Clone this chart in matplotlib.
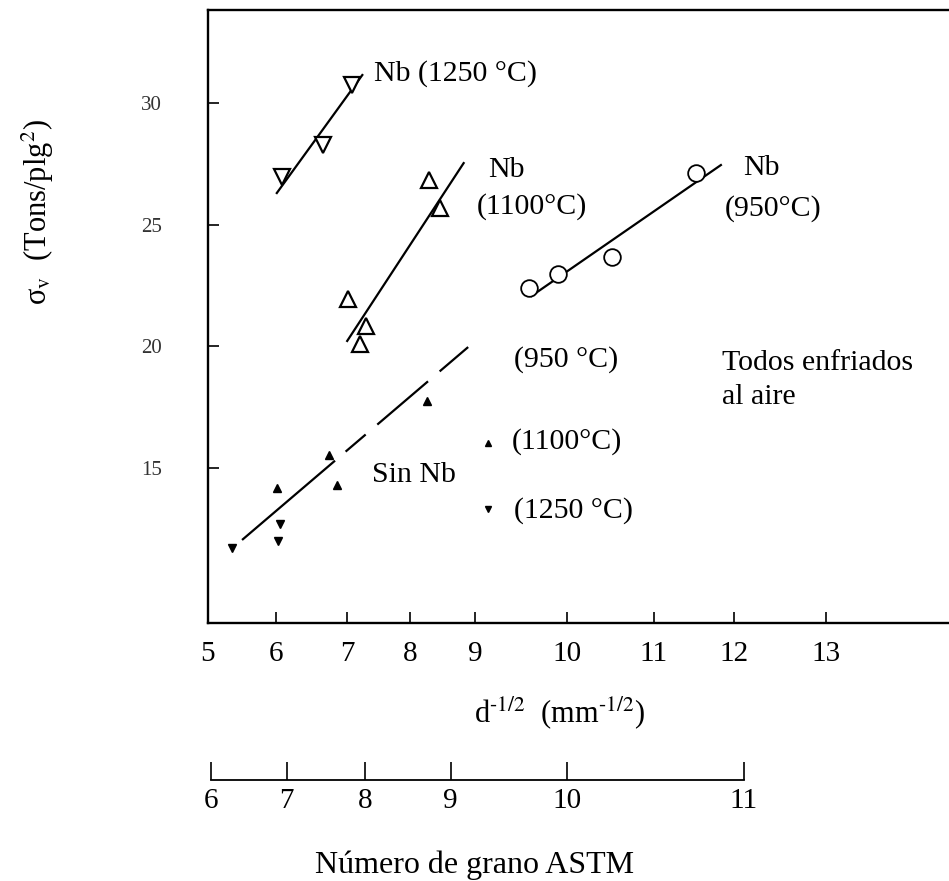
import numpy as np
import matplotlib
matplotlib.use('Agg')
import matplotlib.pyplot as plt

plt.rcParams['font.family'] = 'Liberation Serif'
plt.rcParams['mathtext.fontset'] = 'stix'
plt.rcParams['lines.scale_dashes'] = False

# printed d^-1/2 scale: tick values and their spacing along the axis (irregular)
scale_vals = np.array([5, 6, 7, 8, 9, 10, 11, 12, 13], float)
scale_pos = np.array([0, 68, 139, 202, 267, 359, 445, 525, 617], float)

# Nb steels, open markers
nb1250_x = [6.08, 6.66, 7.08]
nb1250_y = [26.96, 28.27, 30.74]
nb1250_fit_x = [6.01, 7.24]
nb1250_fit_y = [26.3, 31.15]

nb1100_x = [7.02, 7.30, 7.21, 8.29, 8.45]
nb1100_y = [21.94, 20.83, 20.09, 26.84, 25.68]
nb1100_fit_x = [7.0, 8.82]
nb1100_fit_y = [20.22, 27.53]

nb950_x = [9.58, 9.90, 10.52, 11.53]
nb950_y = [22.40, 22.97, 23.67, 27.12]
nb950_fit_x = [9.61, 11.84]
nb950_fit_y = [22.07, 27.45]

# steels without Nb, small filled markers
sin1100_x = [6.01, 6.86, 6.75, 8.25]
sin1100_y = [14.18, 14.30, 15.53, 17.75]
sin1250_x = [5.35, 6.06, 6.03]
sin1250_y = [11.71, 12.70, 12.00]
sin_fit_x = [5.5, 8.89]
sin_fit_y = [12.04, 19.97]

y_ticks = [15, 20, 25, 30]

# ASTM grain number against d^-1/2
astm_numbers = [6, 7, 8, 9, 10, 11]
astm_d = [5.04, 6.15, 7.29, 8.62, 10.0, 12.11]


def _piecewise(v, xs, ys):
    # linear interpolation, extrapolated with the end slopes
    v = np.asarray(v, float)
    out = np.interp(v, xs, ys)
    lo_slope = (ys[1] - ys[0]) / (xs[1] - xs[0])
    hi_slope = (ys[-1] - ys[-2]) / (xs[-1] - xs[-2])
    out = np.where(v < xs[0], ys[0] + (v - xs[0]) * lo_slope, out)
    out = np.where(v > xs[-1], ys[-1] + (v - xs[-1]) * hi_slope, out)
    return out


def fwd(v):
    return _piecewise(v, scale_vals, scale_pos)


def inv(p):
    return _piecewise(p, scale_pos, scale_vals)


def main():
    fig = plt.figure(figsize=(9.49, 8.81), dpi=100)
    ax = fig.add_axes([208 / 949, 1 - 623 / 881, 1 - 208 / 949, (623 - 10) / 881])
    ax.set_xscale('function', functions=(fwd, inv))
    xmax = 13 + (949 - 826) / 92
    ax.set_xlim(5, xmax)
    ax.set_ylim(30 - (623 - 103) / 24.33, 30 + (103 - 10) / 24.33)

    lw = 1.6
    ax.plot(nb1250_fit_x, nb1250_fit_y, color='black', lw=lw)
    ax.plot(nb1250_x, nb1250_y, 'v', ms=12, mfc='white', mec='black', mew=1.6)

    ax.plot(nb1100_fit_x, nb1100_fit_y, color='black', lw=lw)
    ax.plot(nb1100_x, nb1100_y, '^', ms=12, mfc='white', mec='black', mew=1.6)

    ax.plot(nb950_fit_x, nb950_fit_y, color='black', lw=lw)
    ax.plot(nb950_x, nb950_y, 'o', ms=12, mfc='white', mec='black', mew=1.3)

    ax.plot(sin_fit_x, sin_fit_y, color='black', lw=lw,
            linestyle=(0, (88, 10, 19, 11, 48, 11, 27, 10)))
    ax.plot(sin1100_x, sin1100_y, '^', ms=6, color='black')
    ax.plot(sin1250_x, sin1250_y, 'v', ms=6, color='black')

    fs = 21.5
    ax.text(7.43, 31.23, 'Nb (1250 °C)', fontsize=fs, va='center')
    ax.text(9.14, 27.25, 'Nb', fontsize=fs, va='center')
    ax.text(9.02, 25.73, '(1100°C)', fontsize=fs, va='center')
    ax.text(12.10, 27.33, 'Nb', fontsize=fs, va='center')
    ax.text(11.89, 25.68, '(950°C)', fontsize=fs, va='center')
    ax.text(7.40, 14.71, 'Sin Nb', fontsize=fs, va='center')

    ax.text(9.42, 19.44, '(950 °C)', fontsize=fs, va='center')
    ax.plot([9.14], [16.03], '^', ms=5, color='black')
    ax.text(9.40, 16.07, '(1100°C)', fontsize=fs, va='center')
    ax.plot([9.14], [13.31], 'v', ms=5, color='black')
    ax.text(9.42, 13.27, '(1250 °C)', fontsize=fs, va='center')
    ax.text(11.86, 19.31, 'Todos enfriados', fontsize=fs, va='center')
    ax.text(11.86, 17.92, 'al aire', fontsize=fs, va='center')

    ax.spines['right'].set_visible(False)
    for s in ('left', 'bottom', 'top'):
        ax.spines[s].set_linewidth(1.7)
    ax.set_xticks(scale_vals)
    ax.set_xticklabels([str(int(v)) for v in scale_vals], fontsize=21)
    ax.set_yticks(y_ticks)
    ax.set_yticklabels([str(v) for v in y_ticks], fontsize=15, color='#333333')
    ax.tick_params(axis='x', direction='in', length=8, width=1.2, pad=13)
    ax.tick_params(axis='y', direction='in', length=8, width=1.2, pad=33)
    ax.minorticks_off()

    fig.text(560 / 949, 1 - 713 / 881, r'd$^{\text{-1/2}}$  (mm$^{\text{-1/2}}$)',
             fontsize=22, ha='center', va='center')
    fig.text(38 / 949, 1 - 212 / 881, r'σ$_{\rm v}$  (Tons/plg$^2$)',
             fontsize=22, rotation=90, ha='center', va='center')

    # ASTM grain number scale underneath
    ax2 = fig.add_axes([208 / 949, 1 - 780 / 881, 1 - 208 / 949, 0.001])
    ax2.set_xscale('function', functions=(fwd, inv))
    ax2.set_xlim(5, xmax)
    ax2.patch.set_visible(False)
    for s in ('left', 'right', 'top'):
        ax2.spines[s].set_visible(False)
    ax2.spines['bottom'].set_bounds(astm_d[0], astm_d[-1])
    ax2.spines['bottom'].set_linewidth(1.3)
    ax2.set_yticks([])
    ax2.set_xticks(astm_d)
    ax2.set_xticklabels([str(n) for n in astm_numbers], fontsize=21)
    ax2.tick_params(axis='x', direction='in', length=13, width=1.2, pad=6)
    ax2.minorticks_off()
    fig.text(475 / 949, 1 - 865 / 881, 'Número de grano ASTM',
             fontsize=23, ha='center', va='center')

    fig.savefig('out.png', dpi=100)


if __name__ == '__main__':
    main()
